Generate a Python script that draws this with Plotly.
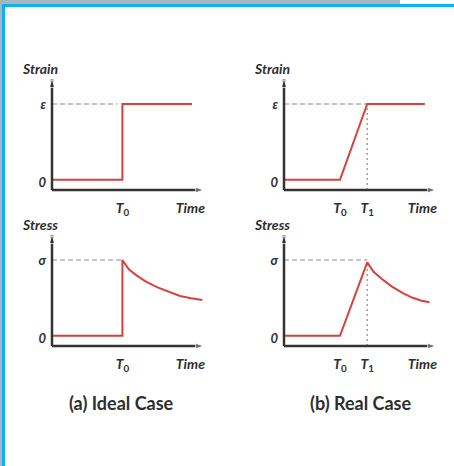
import plotly.graph_objects as go

W, H = 454, 466

# ---- data (time in arbitrary units, strain/stress normalised to 1) ----
t0_ideal = 4.4
t0_real, t1_real = 3.5, 5.2

ideal_strain_t = [0, 4.4, 4.4, 8.75]
ideal_strain_v = [0.03, 0.03, 1.0, 1.0]

ideal_stress_t = [0, 4.4, 4.4, 4.8, 5.3, 5.9, 6.6, 7.3, 8.0, 8.7, 9.4]
ideal_stress_v = [0.03, 0.03, 1.0, 0.88, 0.8, 0.72, 0.65, 0.59, 0.54, 0.51, 0.49]

real_strain_t = [0, 3.5, 5.2, 8.8]
real_strain_v = [0.03, 0.03, 1.0, 1.0]

real_stress_t = [0, 3.5, 5.2, 5.6, 6.1, 6.75, 7.4, 8.0, 8.6, 9.1]
real_stress_v = [0.03, 0.03, 0.97, 0.85, 0.76, 0.66, 0.58, 0.52, 0.48, 0.46]

RED = "#d8403c"
AX = "#333333"
DASH = "#8c8c8c"
FONT = "Lato"
TXT = "#2e2e2e"
XMAX, YMIN, YMAX = 9.5, -0.1, 1.32      # axis arrows
XR = (-0.25, 9.9)                       # padded plotting ranges so axis lines are not clipped
YR = (-0.16, 1.42)
SX, SY = 16.0, 78.2                     # pixels per unit


def px(x):
    return x / W


def py(y):
    return 1 - y / H


fig = go.Figure()

panels = [
    # (xaxis, yaxis, pixel of t=0, pixel of v=0, t, v, ylab, ysym, xticks, subs, dashed)
    ("x", "y", 52, 182.2, ideal_strain_t, ideal_strain_v, "Strain", "ε",
     [t0_ideal], ["0"], [([0, 4.1], [1, 1], "5px,3px")]),
    ("x2", "y2", 284, 182.2, real_strain_t, real_strain_v, "Strain", "ε",
     [t0_real, t1_real], ["0", "1"],
     [([0, 8.8], [1, 1], "5px,3px"), ([t1_real, t1_real], [YMIN, 1], "2px,3px")]),
    ("x3", "y3", 52, 338.2, ideal_stress_t, ideal_stress_v, "Stress", "σ",
     [t0_ideal], ["0"], [([0, 4.4], [1, 1], "5px,3px")]),
    ("x4", "y4", 284, 338.2, real_stress_t, real_stress_v, "Stress", "σ",
     [t0_real, t1_real], ["0", "1"],
     [([0, 5.2], [1, 1], "5px,3px"), ([t1_real, t1_real], [YMIN, 0.97], "2px,3px")]),
]

annotations = []
for xa, ya, ox, oy, t, v, ylab, ysym, xt, xsub, dashed in panels:
    for dx, dy, dsh in dashed:
        fig.add_trace(go.Scatter(x=dx, y=dy, xaxis=xa, yaxis=ya, mode="lines",
                                 line=dict(color=DASH, width=1.2, dash=dsh),
                                 showlegend=False, hoverinfo="skip"))
    fig.add_trace(go.Scatter(x=t, y=v, xaxis=xa, yaxis=ya, mode="lines",
                             line=dict(color=RED, width=2), showlegend=False))

    # axes with arrow heads
    for ax_x, ax_y in (([0, XMAX], [YMIN, YMIN]), ([0, 0], [YMIN, YMAX])):
        fig.add_trace(go.Scatter(x=ax_x, y=ax_y, xaxis=xa, yaxis=ya, mode="lines+markers",
                                 line=dict(color=AX, width=2.5), cliponaxis=False,
                                 marker=dict(symbol="arrow", angleref="previous",
                                             size=[0, 9], color=AX),
                                 showlegend=False, hoverinfo="skip"))

    n = "" if xa == "x" else xa[1:]
    tick_text = ["<b><i>T</i><sub>%s</sub></b>" % s for s in xsub]
    tick_text.append("<b><i>Time</i></b>")
    xdom = [px(ox + XR[0] * SX), px(ox + XR[1] * SX)]
    ydom = [py(oy - YR[0] * SY), py(oy - YR[1] * SY)]
    fig.update_layout(**{
        "xaxis" + n: dict(domain=xdom, range=list(XR), anchor=ya,
                          showgrid=False, zeroline=False, showline=False,
                          tickvals=xt + [8.65], ticktext=tick_text, ticks="",
                          ticklabelstandoff=3,
                          tickfont=dict(family=FONT, size=14, color=TXT)),
        "yaxis" + n: dict(domain=ydom, range=list(YR), anchor=xa,
                          showgrid=False, zeroline=False, showline=False,
                          tickvals=[0, 1], ticktext=["<b><i>0</i></b>", "<b><i>%s</i></b>" % ysym],
                          ticks="", ticklabelstandoff=1,
                          tickfont=dict(family=FONT, size=13, color=TXT)),
    })

    annotations.append(dict(x=0, y=YMAX, xref=xa, yref=ya, text="<b><i>%s</i></b>" % ylab,
                            showarrow=False, xanchor="center", yanchor="bottom",
                            xshift=-12, yshift=0,
                            font=dict(family=FONT, size=14, color=TXT)))

annotations.append(dict(x=px(122), y=py(403), xref="paper", yref="paper",
                        xanchor="center", yanchor="middle",
                        text="<b>(a) Ideal Case</b>", showarrow=False,
                        font=dict(family=FONT, size=18, color=TXT)))
annotations.append(dict(x=px(360), y=py(403), xref="paper", yref="paper",
                        xanchor="center", yanchor="middle",
                        text="<b>(b) Real Case</b>", showarrow=False,
                        font=dict(family=FONT, size=18, color=TXT)))

shapes = [
    dict(type="rect", xref="paper", yref="paper", x0=0, x1=px(400), y0=py(4), y1=1,
         fillcolor="#a9b5bd", line=dict(width=0), layer="below"),
    dict(type="rect", xref="paper", yref="paper", x0=0, x1=px(2), y0=0, y1=1,
         fillcolor="#a9b5bd", line=dict(width=0), layer="below"),
    dict(type="rect", xref="paper", yref="paper", x0=px(2), x1=1, y0=py(7), y1=py(4),
         fillcolor="#0cb1f0", line=dict(width=0), layer="below"),
    dict(type="rect", xref="paper", yref="paper", x0=px(2), x1=px(5), y0=0, y1=py(4),
         fillcolor="#0cb1f0", line=dict(width=0), layer="below"),
]

fig.update_layout(width=W, height=H, margin=dict(l=0, r=0, t=0, b=0),
                  paper_bgcolor="white", plot_bgcolor="rgba(0,0,0,0)",
                  annotations=annotations, shapes=shapes)

fig.write_html("out.html", config={"displayModeBar": False},
               post_script="document.body.style.margin='0';")
